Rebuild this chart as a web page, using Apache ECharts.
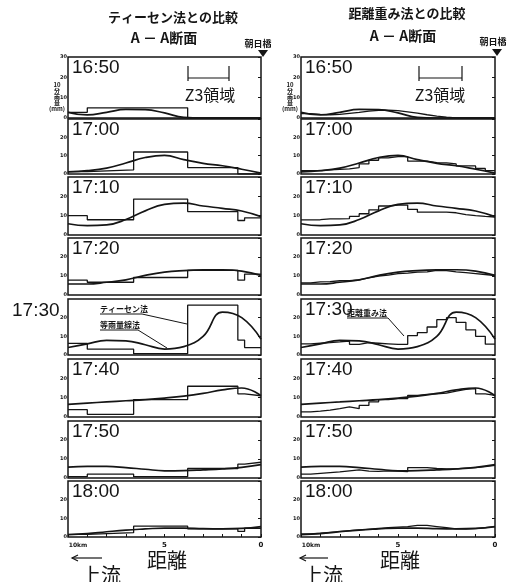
<!DOCTYPE html>
<html>
<head>
<meta charset="utf-8">
<script src="https://cdn.jsdelivr.net/npm/echarts@6/dist/echarts.min.js"></script>
<style>
html, body { margin: 0; padding: 0; background: #fff; }
#chart { width: 520px; height: 582px; }
</style>
</head>
<body>
<div id="chart"></div>
<script>
var times = ['16:50', '17:00', '17:10', '17:20', '17:30', '17:40', '17:50', '18:00'];

// 等雨量線法 (smooth curve), sampled every km from 10km to 0
var curveKm = [10, 9, 8, 7, 6, 5, 4, 3, 2, 1, 0];
var isohyet = [
    [2.8, 1.5, 2.8, 4.2, 4.1, 2.5, 0.3, 0, 0, 0, 0],
    [1.2, 1.8, 3.2, 6, 9, 10.2, 7.8, 5.8, 4.5, 2.6, 0.5],
    [5.8, 4.8, 5.2, 8, 12.5, 15.8, 16.5, 15, 13.8, 12.4, 9.5],
    [5.8, 5.8, 6.7, 8, 10.3, 12, 12.8, 13.2, 13.3, 12.6, 10.3],
    [4, 6, 7.8, 7.6, 5.5, 3.2, 4.5, 10, 23, 20, 8.5],
    [6.5, 7.2, 7.8, 8.4, 9, 9.8, 10.8, 12.2, 14, 15, 11],
    [5.7, 6.1, 6.1, 5.5, 4.6, 3.8, 3.9, 4.3, 4.8, 5.6, 7],
    [1.2, 1.8, 2.8, 3.7, 4.3, 4.8, 4.8, 4.5, 4.4, 4.6, 5.6]
];

// ティーセン法 (step), boundaries in km and one value per segment
var thiessenKm = [10, 9.0, 6.6, 3.8, 1.2, 0.85, 0];
var thiessen = [
    [2.8, 5, 5, 0, 0, 0],
    [1.3, 2.2, 12, 3.5, 0, 0],
    [10, 7.9, 18.6, 12.1, 7.5, 8.9],
    [7.8, 6.7, 9.2, 13, 7.8, 11],
    [6.2, 3.1, 0.7, 26.7, 8, 4],
    [3.8, 1.4, 9, 15.9, 12, 11],
    [0.7, 2, 0.7, 5, 7.3, 8.3],
    [1.4, 2.3, 5.8, 4.4, 3, 4.7]
];

// 距離重み法 (step), 0.5km segments
var dwKm = [10, 9.5, 9, 8.5, 8, 7.5, 7, 6.5, 6, 5.5, 5, 4.5, 4, 3.5, 3, 2.5, 2, 1.5, 1, 0.5, 0];
var dw = [
    [2.2, 1.8, 1.6, 1.8, 2.3, 2.8, 3.4, 3.8, 3.9, 3.6, 3, 2.4, 1.6, 0.9, 0.4, 0.1, 0, 0, 0, 0],
    [1.8, 1.8, 2.2, 2.6, 2.8, 3.5, 5.5, 7.5, 8.8, 9.5, 9.5, 7, 7, 6.2, 6.1, 5.5, 4.4, 4.4, 3, 1.8],
    [7.8, 7.9, 8.3, 8.3, 8.5, 9.6, 11, 13, 15, 15.5, 15.5, 13.3, 11.8, 11.8, 11.8, 11.5, 10.5, 10, 9.6, 9.3],
    [6.4, 6.9, 7, 7.5, 7.6, 8, 9, 10, 10.5, 11.2, 11.5, 12, 12.2, 13, 12.8, 12.2, 11.8, 11.3, 10.8, 10.2],
    [6, 6.3, 6.6, 7, 7.5, 5.7, 6.6, 6.3, 6, 5.7, 5.7, 10.4, 12, 15, 18.9, 20, 17.5, 13.5, 10, 5.8],
    [2.6, 3, 3.6, 4.3, 5.2, 4.3, 6, 7.8, 9, 9.5, 9.5, 11.2, 11.7, 12, 12.4, 13.4, 14.3, 14.7, 12, 11.2],
    [2, 2.4, 2.8, 3.2, 3.8, 4.3, 3.6, 3.5, 3.8, 3.6, 3.4, 5.5, 5.5, 5, 4.8, 4.8, 5.2, 5.5, 6, 6.6],
    [1.6, 2, 2.5, 3, 3.4, 3.8, 4.2, 4.6, 5, 5.3, 5.6, 6.2, 6.2, 5.6, 5, 4.4, 4.2, 4.5, 5, 5.6]
];

// layout
var rowTop = [57, 119, 177, 238, 299, 359, 421, 481];
var rowH = [61, 55, 58, 57, 56, 58, 57, 56];
var colLeft = [68, 301];
var colW = [193, 194];
var ink = '#151515';
var cjk = '"Noto Sans CJK JP", sans-serif';
var latin = '"Liberation Sans", sans-serif';

function stepData(edges, vals) {
    var pts = [];
    for (var i = 0; i < vals.length; i++) {
        pts.push([edges[i], vals[i]]);
        pts.push([edges[i + 1], vals[i]]);
    }
    return pts;
}

var grids = [], xAxes = [], yAxes = [], series = [], graphics = [];

for (var c = 0; c < 2; c++) {
    for (var r = 0; r < 8; r++) {
        var gi = c * 8 + r;
        var last = r === 7;
        grids.push({
            left: colLeft[c], top: rowTop[r], width: colW[c], height: rowH[r],
            show: true, borderColor: ink, borderWidth: 1.5
        });
        xAxes.push({
            gridIndex: gi, type: 'value', min: 0, max: 10, interval: 1, inverse: true,
            axisLine: { show: false },
            splitLine: { show: false },
            axisTick: { show: last, inside: true, length: 3, lineStyle: { color: ink } },
            axisLabel: {
                show: last, margin: 5, color: ink, fontSize: 7, fontWeight: 'bold',
                fontFamily: 'DejaVu Sans',
                formatter: function (v) {
                    if (v === 10) return '{a|10km}';
                    if (v === 5) return '5';
                    if (v === 0) return '0';
                    return '';
                },
                rich: { a: { fontSize: 6, fontWeight: 'bold', color: ink, padding: [0, 0, 0, 20] } }
            }
        });
        yAxes.push({
            gridIndex: gi, type: 'value', min: 0, max: 30, interval: 10,
            axisLine: { show: false },
            splitLine: { show: false },
            axisTick: { show: true, length: 3, lineStyle: { color: ink } },
            axisLabel: {
                margin: 1, color: ink, fontSize: 5, fontWeight: 'bold', fontFamily: 'DejaVu Sans',
                formatter: (function (row) {
                    return function (v) { return (v === 30 && row > 0) ? '' : String(v); };
                })(r)
            }
        });
        series.push({
            type: 'line', xAxisIndex: gi, yAxisIndex: gi, symbol: 'none', silent: true,
            data: c === 0 ? stepData(thiessenKm, thiessen[r]) : stepData(dwKm, dw[r]),
            lineStyle: { color: ink, width: 1.3 }
        });
        series.push({
            type: 'line', xAxisIndex: gi, yAxisIndex: gi, symbol: 'none', silent: true,
            smooth: 0.45,
            data: curveKm.map(function (k, i) { return [k, isohyet[r][i]]; }),
            lineStyle: { color: ink, width: 1.7 }
        });
        if (!(c === 0 && r === 4)) {
            graphics.push({
                type: 'text', silent: true,
                style: {
                    text: times[r], x: colLeft[c] + 4, y: rowTop[r] + 11,
                    font: '19px ' + latin, fill: ink,
                    textAlign: 'left', textVerticalAlign: 'middle', align: 'left', verticalAlign: 'middle'
                }
            });
        }
    }
}

function txt(t, x, y, font, align) {
    graphics.push({
        type: 'text', silent: true,
        style: {
            text: t, x: x, y: y, font: font, fill: ink,
            textAlign: align || 'center', textVerticalAlign: 'middle',
            align: align || 'center', verticalAlign: 'middle'
        }
    });
}
function line(pts, w) {
    graphics.push({
        type: 'polyline', silent: true,
        shape: { points: pts },
        style: { stroke: ink, lineWidth: w || 1, fill: null }
    });
}

// headings
txt('ティーセン法との比較', 173, 17, 'bold 13px ' + cjk);
txt('距離重み法との比較', 407, 13, 'bold 13px ' + cjk);
txt('A － A断面', 164, 38, 'bold 14px ' + cjk);
txt('A － A断面', 403, 36, 'bold 14px ' + cjk);
txt('朝日橋', 258, 44, 'bold 9px ' + cjk);
txt('朝日橋', 493, 42, 'bold 9px ' + cjk);
graphics.push({ type: 'polygon', silent: true, shape: { points: [[258, 50], [268, 50], [263, 57]] }, style: { fill: ink } });
graphics.push({ type: 'polygon', silent: true, shape: { points: [[492, 49], [502, 49], [497, 56]] }, style: { fill: ink } });

// y axis name
txt('10\n分\n雨\n量\n(mm)', 57, 97, 'bold 6px ' + cjk);
txt('10\n分\n雨\n量\n(mm)', 290, 97, 'bold 6px ' + cjk);

// Z3 region brackets
[[188, 229, 210], [419, 462, 440]].forEach(function (b) {
    line([[b[0], 66], [b[0], 81]], 1.2);
    line([[b[1], 66], [b[1], 81]], 1.2);
    line([[b[0], 78], [b[1], 78]], 1.2);
    txt('Z3領域', b[2], 95, '16px ' + cjk);
});

// 17:30 row
txt('17:30', 12, 311, '19px ' + latin, 'left');
txt('ティーセン法', 100, 309, 'bold 8px ' + cjk, 'left');
line([[100, 314], [142, 314], [187, 324]], 1);
txt('等雨量線法', 100, 325, 'bold 8px ' + cjk, 'left');
line([[100, 330], [138, 330], [167, 348]], 1);
txt('距離重み法', 347, 313, 'bold 8px ' + cjk, 'left');
line([[347, 318], [388, 318], [404, 336]], 1);

// bottom labels
[[167, 72, 102, 101], [400, 300, 328, 323]].forEach(function (b) {
    txt('距離', b[0], 560, '20px ' + cjk);
    line([[b[2], 558], [b[1], 558]], 1.2);
    line([[b[1] + 6, 555], [b[1], 558], [b[1] + 6, 561]], 1.2);
    txt('上流', b[3], 575, '20px ' + cjk);
});

var chart = echarts.init(document.getElementById('chart'));
chart.setOption({
    animation: false,
    backgroundColor: '#fff',
    grid: grids,
    xAxis: xAxes,
    yAxis: yAxes,
    series: series,
    graphic: graphics
});
</script>
</body>
</html>
